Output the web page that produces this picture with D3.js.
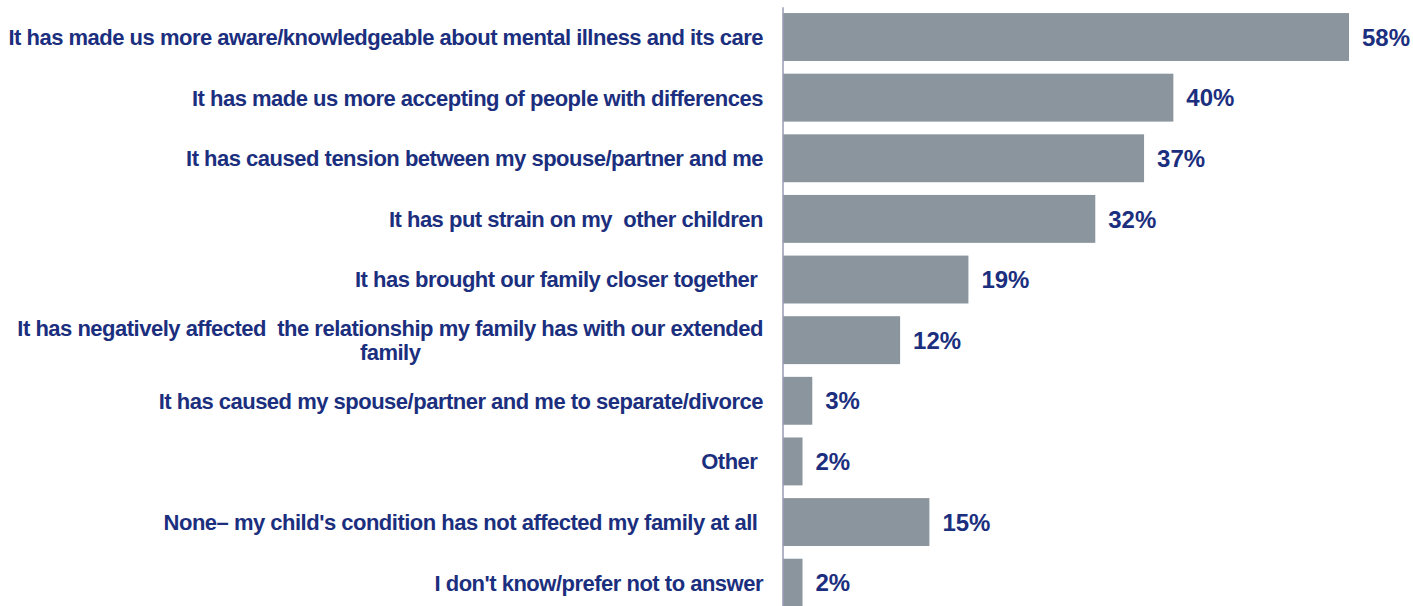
<!DOCTYPE html>
<html>
<head>
<meta charset="utf-8">
<script src="https://cdn.jsdelivr.net/npm/d3@7/dist/d3.min.js"></script>
<style>
  html, body { margin: 0; padding: 0; background: #ffffff; }
  svg { display: block; }
  text { font-family: "Liberation Sans", Arial, sans-serif; font-weight: bold; fill: #1b2f7e; white-space: pre; }
  .cat { letter-spacing: -0.5px; }
</style>
</head>
<body>
<svg id="chart" width="1413" height="606"></svg>
<script>
// Effects of the child's condition on the family (% of respondents)
const categories = [
  "It has made us more aware/knowledgeable about mental illness and its care",
  "It has made us more accepting of people with differences",
  "It has caused tension between my spouse/partner and me",
  "It has put strain on my  other children",
  "It has brought our family closer together ",
  "It has negatively affected  the relationship my family has with our extended\nfamily",
  "It has caused my spouse/partner and me to separate/divorce",
  "Other ",
  "None– my child's condition has not affected my family at all ",
  "I don't know/prefer not to answer"
];
const values = [58, 40, 37, 32, 19, 12, 3, 2, 15, 2];
const valueLabels = ["58%", "40%", "37%", "32%", "19%", "12%", "3%", "2%", "15%", "2%"];

const svg = d3.select("#chart");

const x = d3.scaleLinear().domain([0, 58]).range([783, 1349]);
const y = d3.scaleBand()
  .domain(d3.range(categories.length))
  .range([6.7, 613])
  .paddingInner(0.21)
  .paddingOuter(0.105);

// Bars
svg.append("g")
  .selectAll("rect")
  .data(values)
  .join("rect")
  .attr("x", x(0))
  .attr("y", (d, i) => y(i))
  .attr("width", d => x(d) - x(0))
  .attr("height", y.bandwidth())
  .attr("fill", "#8a959e");

// Vertical category axis line
const axis = svg.append("g")
  .attr("transform", `translate(${x(0) - 0.5},0)`)
  .call(d3.axisLeft(y).tickSize(0).tickSizeOuter(0).tickFormat(""));
axis.select(".domain").attr("stroke", "#9a9ab6").attr("stroke-width", 1.5);

// Category labels, right aligned against the axis
const labelX = 763;
const labels = svg.append("g");
categories.forEach((c, i) => {
  const cy = y(i) + y.bandwidth() / 2;
  const lines = c.split("\n");
  if (lines.length === 1) {
    labels.append("text")
      .attr("class", "cat")
      .attr("x", labelX)
      .attr("y", cy)
      .attr("dy", "0.36em")
      .attr("text-anchor", "end")
      .attr("font-size", 22)
      .text(lines[0]);
  } else {
    const t1 = labels.append("text")
      .attr("class", "cat")
      .attr("x", labelX)
      .attr("y", cy - 12)
      .attr("dy", "0.36em")
      .attr("text-anchor", "end")
      .attr("font-size", 22)
      .text(lines[0]);
    const w1 = t1.node().getComputedTextLength();
    labels.append("text")
      .attr("class", "cat")
      .attr("x", labelX - w1 / 2)
      .attr("y", cy + 12)
      .attr("dy", "0.36em")
      .attr("text-anchor", "middle")
      .attr("font-size", 22)
      .text(lines[1]);
  }
});

// Value labels at the end of each bar
svg.append("g")
  .selectAll("text")
  .data(values)
  .join("text")
  .attr("x", d => x(d) + 13)
  .attr("y", (d, i) => y(i) + y.bandwidth() / 2)
  .attr("dy", "0.36em")
  .attr("font-size", 24)
  .text((d, i) => valueLabels[i]);
</script>
</body>
</html>
